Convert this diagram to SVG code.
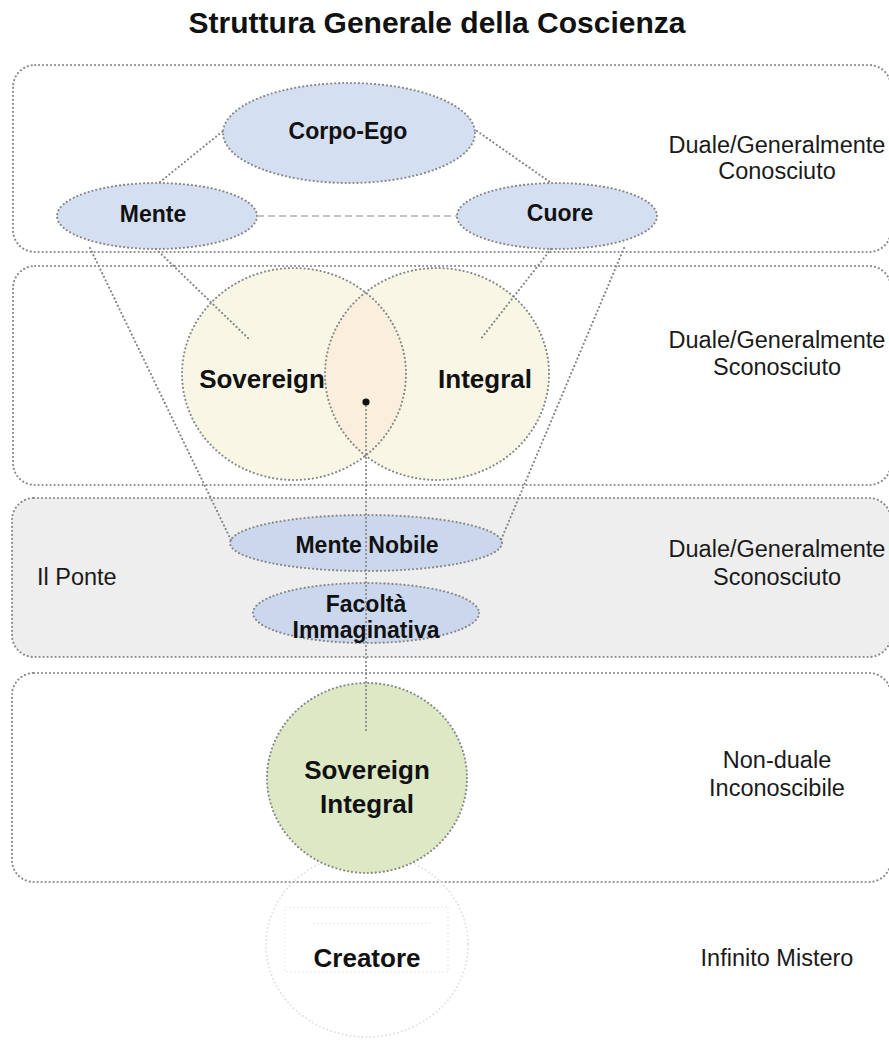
<svg xmlns="http://www.w3.org/2000/svg" width="889" height="1041" viewBox="0 0 889 1041">
  <style>
    .panel { fill: none; stroke: #8a8a8a; stroke-width: 2.1; stroke-dasharray: 0.1 3.9; stroke-linecap: round; }
    .panel.gray { fill: #eeeeee; }
    .node { stroke: #888888; stroke-width: 2.1; stroke-dasharray: 0.1 3.9; stroke-linecap: round; }
    .blue { fill: #d4dff1; }
    .blue2 { fill: #cbd7ed; }
    .cream { fill: #f8f6e5; }
    .green { fill: #dde8c5; }
    .link { fill: none; stroke: #858585; stroke-width: 2.1; stroke-dasharray: 0.1 3.9; stroke-linecap: round; }
    .dash { fill: none; stroke: #b0b0b0; stroke-width: 1.5; stroke-dasharray: 7 4; }
    .faint { fill: none; stroke: #e4e4e4; stroke-width: 2; stroke-dasharray: 0.1 3.9; stroke-linecap: round; }
    text { font-family: "Liberation Sans", Arial, Helvetica, sans-serif; fill: #111; }
    .title { font-size: 30px; font-weight: bold; text-anchor: middle; }
    .lbl { font-size: 23px; font-weight: bold; text-anchor: middle; }
    .big { font-size: 26px; font-weight: bold; text-anchor: middle; }
    .side { font-size: 23.5px; text-anchor: middle; fill: #1a1a1a; }
  </style>

  <text class="title" x="437" y="33">Struttura Generale della Coscienza</text>

  <!-- level bands -->
  <g id="bands">
    <rect class="panel" x="13" y="65" width="878" height="187" rx="22"/>
    <rect class="panel" x="13" y="266" width="878" height="219" rx="22"/>
    <rect class="panel gray" x="12" y="498" width="879" height="159" rx="22"/>
    <rect class="panel" x="12" y="673" width="879" height="209" rx="22"/>
  </g>

  <!-- band captions -->
  <g id="captions">
    <text class="side" x="777" y="153">Duale/Generalmente</text>
    <text class="side" x="777" y="179">Conosciuto</text>
    <text class="side" x="777" y="348">Duale/Generalmente</text>
    <text class="side" x="777" y="375">Sconosciuto</text>
    <text class="side" x="777" y="557">Duale/Generalmente</text>
    <text class="side" x="777" y="585">Sconosciuto</text>
    <text class="side" x="777" y="768">Non-duale</text>
    <text class="side" x="777" y="796">Inconoscibile</text>
    <text class="side" x="777" y="966">Infinito Mistero</text>
    <text class="side" x="37" y="585" style="text-anchor:start">Il Ponte</text>
  </g>

  <!-- Creatore (ghosted outline) -->
  <g id="creatore">
    <ellipse class="faint" cx="367" cy="945" rx="101" ry="92"/>
    <rect x="285" y="907" width="163" height="65" fill="none" stroke="#f0f2e6" stroke-width="1.5" stroke-dasharray="2 2"/>
    <line x1="313" y1="923" x2="430" y2="923" stroke="#f0f2e6" stroke-width="1.5" stroke-dasharray="2 2"/>
    <text class="big" x="367" y="967">Creatore</text>
  </g>

  <!-- Sovereign / Integral -->
  <g id="sovereign">
    <ellipse class="cream" cx="294" cy="374" rx="112" ry="106"/>
  </g>
  <g id="integral">
    <ellipse class="cream" cx="437" cy="374" rx="112" ry="106"/>
  </g>
  <path id="overlap" d="M365.5 292.4 A112 106 0 0 1 365.5 455.6 A112 106 0 0 1 365.5 292.4 Z" fill="#faefdd"/>
  <ellipse class="node" cx="294" cy="374" rx="112" ry="106" fill="none"/>
  <ellipse class="node" cx="437" cy="374" rx="112" ry="106" fill="none"/>
  <text class="big" x="262" y="388">Sovereign</text>
  <text class="big" x="485" y="388">Integral</text>

  <!-- upper triad -->
  <g id="corpo-ego">
    <ellipse class="node blue" cx="349" cy="133" rx="126" ry="50"/>
    <text class="lbl" x="348" y="139">Corpo-Ego</text>
  </g>
  <g id="mente">
    <ellipse class="node blue" cx="157" cy="216" rx="100" ry="33"/>
    <text class="lbl" x="153" y="222">Mente</text>
  </g>
  <g id="cuore">
    <ellipse class="node blue" cx="557" cy="216" rx="100" ry="33"/>
    <text class="lbl" x="560" y="221">Cuore</text>
  </g>

  <!-- bridge -->
  <g id="mente-nobile">
    <ellipse class="node blue2" cx="366" cy="543" rx="136" ry="28"/>
    <text class="lbl" x="367" y="553">Mente Nobile</text>
  </g>
  <g id="facolta">
    <ellipse class="node blue2" cx="366" cy="613" rx="113" ry="30"/>
    <text class="lbl" x="366" y="612">Facoltà</text>
    <text class="lbl" x="366" y="638">Immaginativa</text>
  </g>

  <!-- Sovereign Integral -->
  <g id="sovereign-integral">
    <ellipse class="node green" cx="367" cy="778" rx="100" ry="95"/>
    <text class="big" x="367" y="779">Sovereign</text>
    <text class="big" x="367" y="813">Integral</text>
  </g>

  <!-- connectors -->
  <g id="connectors">
    <line class="link" x1="160" y1="182" x2="223" y2="131"/>
    <line class="link" x1="477" y1="131" x2="550" y2="182"/>
    <line class="dash" x1="257" y1="216" x2="457" y2="216"/>
    <line class="link" x1="90" y1="248" x2="231" y2="540"/>
    <line class="link" x1="624" y1="248" x2="501" y2="540"/>
    <line class="link" x1="156" y1="249" x2="250" y2="340"/>
    <line class="link" x1="551" y1="249" x2="480" y2="340"/>
    <line class="link" x1="366" y1="402" x2="366" y2="733"/>
    <circle cx="366" cy="402" r="3.6" fill="#111"/>
  </g>
</svg>
